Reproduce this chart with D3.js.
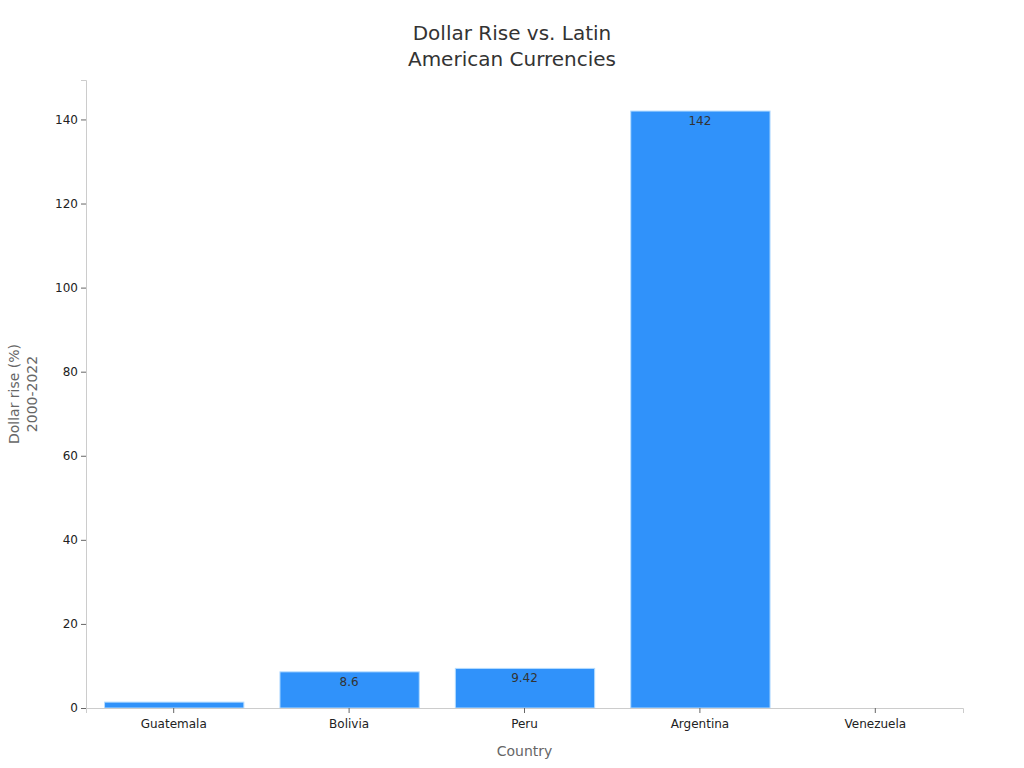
<!DOCTYPE html>
<meta charset="utf-8">
<script src="https://d3js.org/d3.v7.min.js"></script>
<style>
  body { margin: 0; background: #fff; }
  svg text { font-family: "DejaVu Sans", sans-serif; }
</style>
<body>
<svg id="vis" width="1024" height="768"></svg>
<script>
// chart data
var countries = ["Guatemala", "Bolivia", "Peru", "Argentina", "Venezuela"];
var dollarRise = [1.4, 8.6, 9.42, 142, 0];
var barLabels = ["", "8.6", "9.42", "142", ""];
var yTicks = [0, 20, 40, 60, 80, 100, 120, 140];

var margin = {top: 80, right: 61, bottom: 60, left: 86},
    width = 1024 - margin.left - margin.right,
    height = 768 - margin.top - margin.bottom;

var svg = d3.select("#vis")
  .append("g")
    .attr("transform", "translate(" + margin.left + "," + margin.top + ")");

var data = countries.map(function(c, i) { return {country: c, value: dollarRise[i], label: barLabels[i]}; });

var x = d3.scaleBand()
  .domain(countries)
  .range([0, width])
  .paddingInner(0.2)
  .paddingOuter(0.1);

var y = d3.scaleLinear()
  .domain([0, d3.max(dollarRise) * 1.052])
  .range([height, 0]);

// title
var title = d3.select("#vis").append("text")
  .attr("text-anchor", "middle")
  .attr("font-size", "20px")
  .attr("fill", "#333");
title.append("tspan").attr("x", 512).attr("y", 40).text("Dollar Rise vs. Latin");
title.append("tspan").attr("x", 512).attr("y", 66).text("American Currencies");

// bars
svg.selectAll(".bar")
  .data(data)
  .enter()
  .append("rect")
    .attr("class", "bar")
    .attr("x", function(d) { return x(d.country) + 1; })
    .attr("width", x.bandwidth() - 1)
    .attr("y", function(d) { return y(d.value); })
    .attr("height", function(d) { return height - y(d.value); })
    .attr("fill", "#3092fa")
    .attr("stroke", "#b5dcff")
    .attr("stroke-width", 1)
    .style("display", function(d) { return d.value > 0 ? null : "none"; });

// value labels
svg.selectAll(".lbl")
  .data(data.filter(function(d) { return d.label !== ""; }))
  .enter()
  .append("text")
    .attr("class", "lbl")
    .attr("x", function(d) { return x(d.country) + x.bandwidth() / 2; })
    .attr("y", function(d) { return y(d.value) + 14; })
    .attr("text-anchor", "middle")
    .attr("font-size", "12px")
    .attr("fill", "#333")
    .text(function(d) { return d.label; });

// axes
var xAxis = svg.append("g")
  .attr("transform", "translate(0," + height + ")")
  .call(d3.axisBottom(x).tickSizeOuter(0).tickSize(5).tickPadding(6));
xAxis.select(".domain").attr("stroke", "#ccc");
xAxis.selectAll(".tick line").attr("stroke", "#666");
xAxis.selectAll(".tick text").attr("font-size", "12px").attr("fill", "#222")
  .style("font-family", "DejaVu Sans, sans-serif");

var yAxis = svg.append("g")
  .call(d3.axisLeft(y).tickValues(yTicks).tickSizeOuter(0).tickSize(5).tickPadding(3));
yAxis.select(".domain").attr("stroke", "#ccc");
yAxis.selectAll(".tick line").attr("stroke", "#666");
yAxis.selectAll(".tick text").attr("font-size", "12px").attr("fill", "#222")
  .style("font-family", "DejaVu Sans, sans-serif");

// axis titles
svg.append("text")
  .attr("x", width / 2)
  .attr("y", height + 48)
  .attr("text-anchor", "middle")
  .attr("font-size", "14px")
  .attr("fill", "#666")
  .text("Country");

var yl = svg.append("text")
  .attr("transform", "translate(" + (-67) + "," + (height / 2) + ") rotate(-90)")
  .attr("text-anchor", "middle")
  .attr("font-size", "14px")
  .attr("fill", "#666");
yl.append("tspan").attr("x", 0).attr("dy", 0).text("Dollar rise (%)");
yl.append("tspan").attr("x", 0).attr("dy", 18).text("2000-2022");
</script>
</body>
